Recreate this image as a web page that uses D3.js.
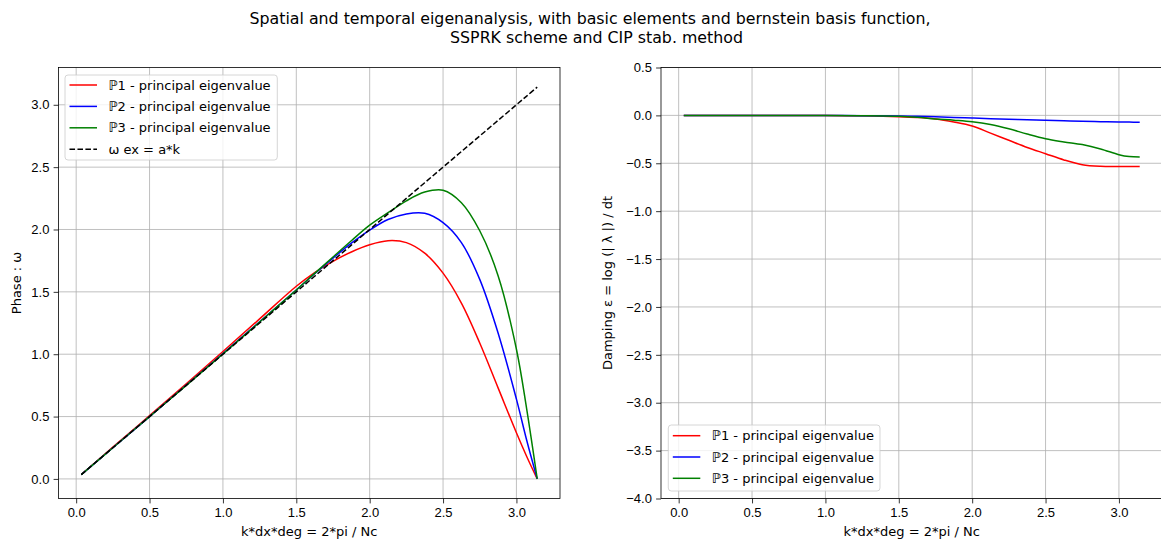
<!DOCTYPE html>
<html>
<head>
<meta charset="utf-8">
<script src="https://cdn.jsdelivr.net/npm/d3@7"></script>
<style>
  body { margin: 0; background: #fff; }
  svg { font-family: "DejaVu Sans", sans-serif; display: block; }
  .grid line { stroke: #b0b0b0; stroke-width: 0.8; }
  .tick text { font-size: 13px; fill: #000; }
</style>
</head>
<body>
<div id="chart"></div>
<script>
/* wave number k*dx*deg, shared by both panels */
var kx = [0.0349, 0.25, 0.5, 0.75, 1.0, 1.25, 1.5, 1.625, 1.75, 1.875, 2.0, 2.125,
          2.25, 2.375, 2.5, 2.625, 2.75, 2.875, 3.0, 3.07, 3.1416];

/* phase omega, principal eigenvalue */
var phaseP1 = [0.035, 0.255, 0.507, 0.763, 1.022, 1.283, 1.545, 1.655, 1.745, 1.82, 1.878, 1.91,
               1.895, 1.81, 1.65, 1.41, 1.09, 0.73, 0.37, 0.18, 0];
var phaseP2 = [0.035, 0.25, 0.5, 0.752, 1.005, 1.26, 1.515, 1.645, 1.77, 1.89, 1.995, 2.08,
               2.125, 2.13, 2.055, 1.895, 1.60, 1.17, 0.64, 0.31, 0];
var phaseP3 = [0.035, 0.25, 0.5, 0.75, 1.003, 1.258, 1.515, 1.648, 1.78, 1.91, 2.035, 2.135,
               2.23, 2.30, 2.315, 2.215, 1.99, 1.63, 1.04, 0.56, 0];
var phaseExact = kx.slice();

/* damping epsilon = log(|lambda|)/dt */
var dampP1 = [0, 0, 0, -0.001, -0.002, -0.005, -0.014, -0.022, -0.037, -0.068, -0.11, -0.185,
              -0.26, -0.335, -0.40, -0.465, -0.515, -0.532, -0.534, -0.534, -0.534];
var dampP2 = [0, 0, 0, 0, -0.001, -0.003, -0.007, -0.01, -0.015, -0.021, -0.028, -0.034,
              -0.04, -0.046, -0.052, -0.057, -0.062, -0.066, -0.069, -0.07, -0.071];
var dampP3 = [0, 0, 0, -0.001, -0.002, -0.004, -0.01, -0.02, -0.037, -0.05, -0.066, -0.095,
              -0.14, -0.195, -0.244, -0.277, -0.305, -0.35, -0.41, -0.43, -0.435];

var xTicks = [0.0, 0.5, 1.0, 1.5, 2.0, 2.5, 3.0];
var phaseTicks = [0.0, 0.5, 1.0, 1.5, 2.0, 2.5, 3.0];
var dampTicks = [0.5, 0.0, -0.5, -1.0, -1.5, -2.0, -2.5, -3.0, -3.5, -4.0];

var seriesNames = ["\u21191 - principal eigenvalue", "\u21192 - principal eigenvalue",
                   "\u21193 - principal eigenvalue"];
var exactName = "\u03c9 ex = a*k";
var colors = ["#ff0000", "#0000ff", "#008000"];

var W = 1161, H = 539;

var svg = d3.select("#chart").append("svg")
    .attr("width", W)
    .attr("height", H);

function fmt(v) {
  return d3.format(".1f")(v).replace("-", "\u2212");
}

/* build one matplotlib-like axes */
function createAxes(geom, xDomain, yDomain, yTicks, ylabel) {
  var ax = Object();
  var x = d3.scaleLinear().domain(xDomain).range([0, geom.width]),
      y = d3.scaleLinear().domain(yDomain).range([geom.height, 0]);

  var g = svg.append("g")
      .attr("transform", "translate(" + geom.left + "," + geom.top + ")");

  var grid = g.append("g").attr("class", "grid");
  grid.selectAll(".gx").data(xTicks).enter().append("line")
      .attr("x1", function(d) { return x(d); })
      .attr("x2", function(d) { return x(d); })
      .attr("y1", 0).attr("y2", geom.height);
  grid.selectAll(".gy").data(yTicks).enter().append("line")
      .attr("x1", 0).attr("x2", geom.width)
      .attr("y1", function(d) { return y(d); })
      .attr("y2", function(d) { return y(d); });

  var xAxis = d3.axisBottom(x).tickValues(xTicks).tickSize(4.9).tickPadding(4.2).tickFormat(fmt),
      yAxis = d3.axisLeft(y).tickValues(yTicks).tickSize(4.9).tickPadding(4.2).tickFormat(fmt);

  var gX = g.append("g")
      .attr("transform", "translate(0," + geom.height + ")")
      .call(xAxis);
  var gY = g.append("g").call(yAxis);
  [gX, gY].forEach(function(a) {
    a.select(".domain").remove();
    a.selectAll(".tick line").attr("stroke", "#000").attr("stroke-width", 0.8);
  });

  g.append("clipPath").attr("id", "clip" + geom.left)
    .append("rect").attr("width", geom.width).attr("height", geom.height);
  var plot = g.append("g").attr("clip-path", "url(#clip" + geom.left + ")");

  g.append("rect")
      .attr("width", geom.width)
      .attr("height", geom.height)
      .attr("fill", "none")
      .attr("stroke", "#000")
      .attr("stroke-width", 0.8);

  g.append("text")
      .attr("x", geom.width / 2)
      .attr("y", geom.height + 37)
      .attr("text-anchor", "middle")
      .style("font-size", "13px")
      .text("k*dx*deg = 2*pi / Nc");

  svg.append("text")
      .attr("transform", "translate(" + geom.ylabelX + "," + (geom.top + geom.height / 2) + ") rotate(-90)")
      .attr("text-anchor", "middle")
      .attr("dy", "0.35em")
      .style("font-size", "13px")
      .text(ylabel);

  ax.x = x; ax.y = y; ax.g = g; ax.plot = plot;
  return ax;
}

function addLine(ax, ys, color, dash) {
  var data = kx.map(function(k, i) { return {t: k, y: ys[i]}; });
  var line = d3.line()
      .curve(d3.curveCatmullRom.alpha(0.5))
      .x(function(d) { return ax.x(d.t); })
      .y(function(d) { return ax.y(d.y); });
  ax.plot.append("path")
      .datum(data)
      .attr("fill", "none")
      .attr("stroke", color)
      .attr("stroke-width", 1.5)
      .attr("stroke-dasharray", dash || null)
      .attr("d", line);
}

function addLegend(box, items) {
  var g = svg.append("g").attr("transform", "translate(" + box.x + "," + box.y + ")");
  g.append("rect")
      .attr("width", box.w).attr("height", box.h)
      .attr("rx", 3)
      .attr("fill", "#fff").attr("fill-opacity", 0.8)
      .attr("stroke", "#cccccc").attr("stroke-width", 0.8);
  items.forEach(function(it, i) {
    var cy = box.first + i * box.step;
    g.append("line")
        .attr("x1", 4.5).attr("x2", 32).attr("y1", cy).attr("y2", cy)
        .attr("stroke", it.color).attr("stroke-width", 1.5)
        .attr("stroke-dasharray", it.dash || null);
    g.append("text")
        .attr("x", 43.5).attr("y", cy).attr("dy", "0.35em")
        .style("font-size", "13px")
        .text(it.name);
  });
}

var xDomain = [-0.1204, 3.2969];

var left = createAxes({left: 58.5, top: 67.5, width: 501.5, height: 431, ylabelX: 16},
                      xDomain, [-0.157, 3.299], phaseTicks, "Phase : \u03c9");
addLine(left, phaseP1, colors[0]);
addLine(left, phaseP2, colors[1]);
addLine(left, phaseP3, colors[2]);
addLine(left, phaseExact, "#000", "5.55,2.4");

var right = createAxes({left: 661, top: 67.5, width: 501.5, height: 431, ylabelX: 607},
                       xDomain, [-4.0, 0.5], dampTicks, "Damping \u03b5 = log (| \u03bb |) / dt");
addLine(right, dampP1, colors[0]);
addLine(right, dampP2, colors[1]);
addLine(right, dampP3, colors[2]);

var items = seriesNames.map(function(n, i) { return {name: n, color: colors[i]}; });
addLegend({x: 65, y: 75, w: 212.3, h: 85, first: 10, step: 21.4},
          items.concat([{name: exactName, color: "#000", dash: "5.55,2.4"}]));
addLegend({x: 668.3, y: 425, w: 211.7, h: 66, first: 10.7, step: 21.3}, items);

var title = ["Spatial and temporal eigenanalysis, with basic elements and bernstein basis function,",
             "SSPRK scheme and CIP stab. method"];
svg.selectAll(".title").data(title).enter().append("text")
    .attr("x", function(d, i) { return i === 0 ? 590 : 596.5; })
    .attr("y", function(d, i) { return 18 + i * 19; })
    .attr("dy", "0.35em")
    .attr("text-anchor", "middle")
    .style("font-size", "15.8px")
    .text(function(d) { return d; });
</script>
</body>
</html>
